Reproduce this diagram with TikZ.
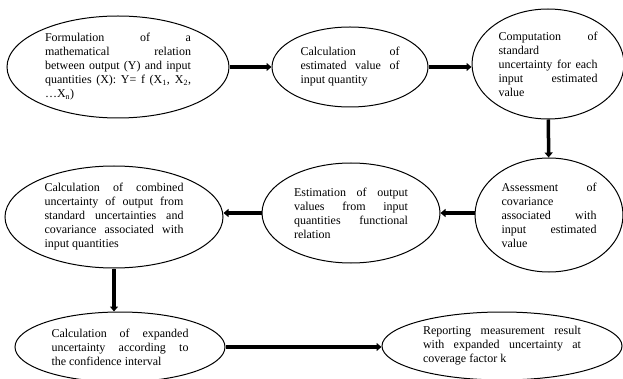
\documentclass[tikz,border=0pt]{standalone}
\usepackage{fontspec}
\setmainfont{Liberation Serif}
\usetikzlibrary{shapes.geometric, arrows.meta}

\begin{document}
\begin{tikzpicture}[x=1pt, y=-1pt,
	stage/.style={ellipse, draw, line width=1pt, inner sep=0pt, align=justify,
		font=\fontsize{12}{14}\selectfont},
	flow/.style={line width=3.5pt, -{Triangle[length=5pt,width=8pt]}}]
	\useasboundingbox (0,0) rectangle (623,379);
	\node [stage, text width=146pt, minimum width=222pt, minimum height=102pt] (formulation) at (118,67)
		{Formulation of a\linebreak mathematical relation\linebreak between output (Y) and input\linebreak quantities (X): Y= f (X\textsubscript{1}, X\textsubscript{2},\linebreak …X\textsubscript{n})};
	\node [stage, text width=99pt, minimum width=156pt, minimum height=80pt] (estimValue) at (350,67)
		{Calculation of\linebreak estimated value of\linebreak input quantity};
	\node [stage, text width=99pt, minimum width=152pt, minimum height=110pt] (computation) at (548,64)
		{Computation of\linebreak standard\linebreak uncertainty for each\linebreak input estimated\linebreak value};
	\node [stage, text width=95pt, minimum width=148pt, minimum height=114pt] (assessment) at (549,215)
		{Assessment of\linebreak covariance\linebreak associated with\linebreak input estimated\linebreak value};
	\node [stage, text width=114pt, minimum width=178pt, minimum height=100pt] (estimation) at (351,213)
		{Estimation of output\linebreak values from input\linebreak quantities functional\linebreak relation};
	\node [stage, text width=139pt, minimum width=218pt, minimum height=102pt] (combined) at (114,217)
		{Calculation of combined\linebreak uncertainty of output from\linebreak standard uncertainties and\linebreak covariance associated with\linebreak input quantities};
	\node [stage, text width=137pt, minimum width=210pt, minimum height=70pt] (expanded) at (120,347)
		{Calculation of expanded\linebreak uncertainty according to\linebreak the confidence interval};
	\node [stage, text width=158pt, minimum width=240pt, minimum height=68pt] (reporting) at (502,346)
		{Reporting measurement result\linebreak with expanded uncertainty at\linebreak coverage factor k};
	\draw [flow] (formulation) -- (estimValue);
	\draw [flow] (estimValue.east) -- (computation.west |- estimValue.east);
	\draw [flow] (computation) -- (assessment);
	\draw [flow] (assessment.west |- estimation.east) -- (estimation.east);
	\draw [flow] (estimation.west) -- (combined.east |- estimation.west);
	\draw [flow] (combined.south) -- (combined.south |- expanded.north);
	\draw [flow] (expanded.east) -- (expanded.east -| reporting.west);
\end{tikzpicture}
\end{document}
